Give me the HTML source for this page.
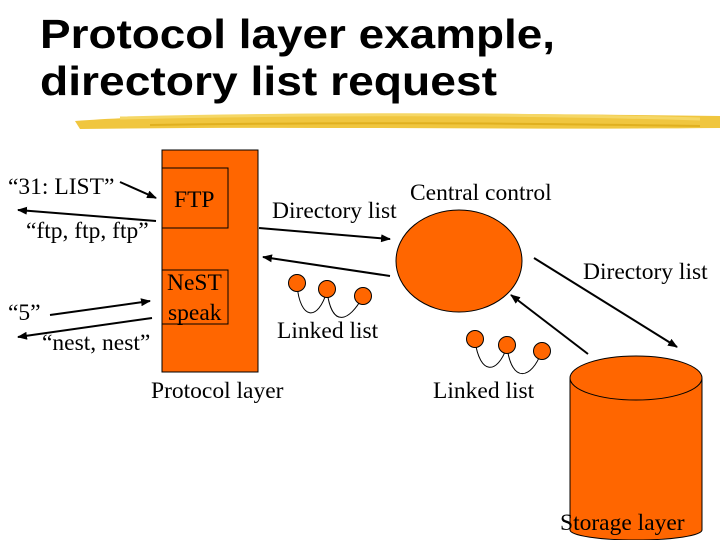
<!DOCTYPE html>
<html><head><meta charset="utf-8"><style>
html,body{margin:0;padding:0;background:#fff;width:720px;height:540px;overflow:hidden}
svg{display:block}
.t{font-family:"Liberation Serif",serif;font-size:23.5px;fill:#000}
</style></head><body>
<svg width="720" height="540" viewBox="0 0 720 540" xmlns="http://www.w3.org/2000/svg">
<defs>
<marker id="a" markerWidth="10" markerHeight="8" refX="9" refY="4" orient="auto" markerUnits="userSpaceOnUse">
<path d="M0,0 L10,4 L0,8 Z" fill="#000"/></marker>
</defs>
<text x="40" y="48" font-family="Liberation Sans,sans-serif" font-weight="bold" font-size="41" textLength="515" lengthAdjust="spacingAndGlyphs">Protocol layer example,</text>
<text x="40" y="95" font-family="Liberation Sans,sans-serif" font-weight="bold" font-size="41" textLength="457" lengthAdjust="spacingAndGlyphs">directory list request</text>
<path d="M75,121 C200,112 400,112 720,116 L720,128 C500,130 300,126 80,129 Z" fill="#eec02a" opacity="0.9"/>
<path d="M120,118 C300,114 500,113 700,119" stroke="#f5d766" stroke-width="3" fill="none"/>
<path d="M150,125 C350,122 500,123 700,126" stroke="#e0b020" stroke-width="2" fill="none"/>

<rect x="162" y="150" width="96" height="222" fill="#ff6600" stroke="#000" stroke-width="1"/>
<rect x="162" y="168" width="66" height="60" fill="#ff6600" stroke="#000" stroke-width="1"/>
<rect x="162" y="270" width="66" height="54" fill="#ff6600" stroke="#000" stroke-width="1"/>
<ellipse cx="459" cy="261" rx="63" ry="51" fill="#ff6600" stroke="#000"/>
<path d="M570,378 L570,530 A66,10 0 0 0 702,530 L702,378" fill="#ff6600" stroke="#000"/>
<ellipse cx="636" cy="378" rx="66" ry="22" fill="#ff6600" stroke="#000"/>

<g stroke="#000" stroke-width="2" fill="none">
<line x1="120" y1="182" x2="156" y2="198" marker-end="url(#a)"/>
<line x1="156" y1="221" x2="18" y2="210" marker-end="url(#a)"/>
<line x1="50" y1="315" x2="150" y2="301" marker-end="url(#a)"/>
<line x1="152" y1="318" x2="18" y2="337" marker-end="url(#a)"/>
<line x1="259" y1="228" x2="390" y2="239" marker-end="url(#a)"/>
<line x1="390" y1="276" x2="263" y2="257" marker-end="url(#a)"/>
<line x1="534" y1="258" x2="677" y2="347" marker-end="url(#a)"/>
<line x1="588" y1="354" x2="511" y2="295" marker-end="url(#a)"/>
</g>

<g stroke="#000" stroke-width="1" fill="none">
<path d="M297,285 C300,320 318,322 327,291"/>
<path d="M327,291 C332,330 350,320 362,298"/>
<path d="M475,341 C480,375 497,375 507,347"/>
<path d="M507,347 C512,385 532,378 541,353"/>
</g>
<g fill="#ff6600" stroke="#000">
<circle cx="297" cy="283" r="8.5"/><circle cx="327" cy="289" r="8.5"/><circle cx="363" cy="296" r="8.5"/>
<circle cx="475" cy="339" r="8.5"/><circle cx="507" cy="345" r="8.5"/><circle cx="542" cy="351" r="8.5"/>
</g>

<text class="t" x="8" y="194">“31: LIST”</text>
<text class="t" x="26" y="238">“ftp, ftp, ftp”</text>
<text class="t" x="8" y="320">“5”</text>
<text class="t" x="42" y="350">“nest, nest”</text>
<text class="t" x="174" y="207">FTP</text>
<text class="t" x="167" y="290">NeST</text>
<text class="t" x="168" y="320">speak</text>
<text class="t" x="272" y="218">Directory list</text>
<text class="t" x="410" y="200">Central control</text>
<text class="t" x="583" y="279">Directory list</text>
<text class="t" x="277" y="338">Linked list</text>
<text class="t" x="151" y="398">Protocol layer</text>
<text class="t" x="433" y="398">Linked list</text>
<text class="t" x="560" y="530">Storage layer</text>
</svg>
</body></html>
